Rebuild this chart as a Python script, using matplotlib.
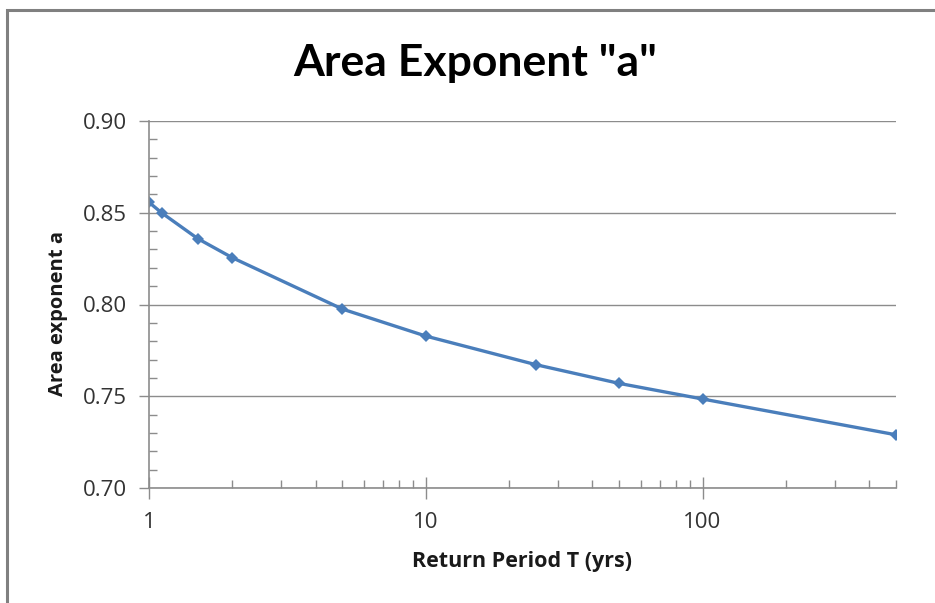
import matplotlib.pyplot as plt
import matplotlib.patches as patches
from matplotlib.ticker import FixedLocator, LogLocator, NullFormatter, FormatStrFormatter
import numpy as np

# Data
return_period = [1.0, 1.11, 1.5, 2, 5, 10, 25, 50, 100, 500]
area_exponent = [0.8557, 0.8500, 0.8359, 0.8255, 0.7975, 0.7828, 0.7672, 0.7570, 0.7485, 0.7290]

title = 'Area Exponent "a"'
xlabel = "Return Period T (yrs)"
ylabel = "Area exponent a"
xticks = [1, 10, 100]
yticks = [0.70, 0.75, 0.80, 0.85, 0.90]

axis_gray = "#8c8c8c"
line_blue = "#4a7ebb"

fig = plt.figure(figsize=(9.35, 6.03), dpi=100)
ax = fig.add_axes([149 / 935, 1 - 488 / 603, (896 - 149) / 935, (488 - 121) / 603])

# chart frame (cropped on right and bottom in the reference)
fig.patches.append(patches.Rectangle((7 / 935, -0.1), 1.2, 1 - 10 / 603 + 0.1,
                                     transform=fig.transFigure, fill=False,
                                     edgecolor="#808080", lw=2.2))

ax.plot(return_period, area_exponent, color=line_blue, lw=2.4,
        marker="D", markersize=6.5, markeredgewidth=0, solid_capstyle="round")

ax.set_xscale("log")
ax.set_xlim(1, 500)
ax.set_ylim(0.70, 0.90)

ax.xaxis.set_major_locator(FixedLocator(xticks))
ax.xaxis.set_major_formatter(FormatStrFormatter("%g"))
ax.xaxis.set_minor_locator(LogLocator(base=10, subs=np.arange(2, 10)))
ax.xaxis.set_minor_formatter(NullFormatter())
ax.set_yticks(yticks)
ax.yaxis.set_major_formatter(FormatStrFormatter("%.2f"))
ax.set_yticks(np.arange(0.70, 0.90, 0.01), minor=True)

ax.grid(axis="y", which="major", color=axis_gray, lw=1)
ax.set_axisbelow(True)
for s in ["top", "right"]:
    ax.spines[s].set_visible(False)
for s in ["left", "bottom"]:
    ax.spines[s].set_color(axis_gray)
    ax.spines[s].set_linewidth(1.2)

ax.tick_params(axis="y", which="major", direction="out", length=7, width=1,
               color=axis_gray, labelcolor="#333333", pad=9)
ax.tick_params(axis="y", which="minor", direction="in", length=6, width=1,
               color=axis_gray)
ax.tick_params(axis="x", which="major", direction="inout", length=16, width=1,
               color=axis_gray, labelcolor="#333333", pad=9)
ax.tick_params(axis="x", which="minor", direction="in", length=6, width=1,
               color=axis_gray)
for lbl in ax.get_xticklabels() + ax.get_yticklabels():
    lbl.set_fontfamily("Open Sans")
    lbl.set_fontsize(16)

fig.text(475 / 935, 1 - 63 / 603, title, ha="center", va="center",
         fontfamily="Lato", fontweight="bold", fontsize=32, color="black")
fig.text(522 / 935, 1 - 561 / 603, xlabel, ha="center", va="center",
         fontfamily="Open Sans", fontweight="bold", fontsize=15.5, color="#1a1a1a")
fig.text(58 / 935, 1 - 313 / 603, ylabel, ha="center", va="center", rotation=90,
         fontfamily="Open Sans", fontweight="bold", fontsize=14.5, color="#1a1a1a")

fig.savefig("out.png", dpi=100)
